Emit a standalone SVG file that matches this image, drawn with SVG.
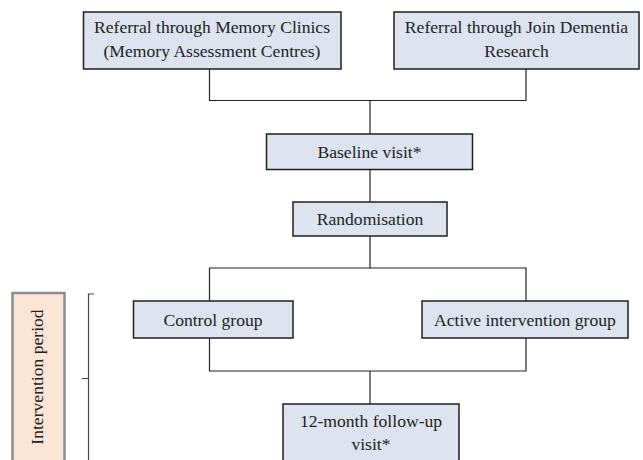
<svg xmlns="http://www.w3.org/2000/svg" width="643" height="460" viewBox="0 0 643 460">
<style>
.box{fill:#dde4ef;stroke:#1f1f1f;stroke-width:1.5}
.t{font-family:"Liberation Serif","Times New Roman",serif;font-size:17.6px;fill:#222;text-anchor:middle}
.c{fill:none;stroke:#222;stroke-width:1.2}
.br{fill:none;stroke:#444;stroke-width:1.2}
</style>
<rect width="643" height="460" fill="#fff"/>
<g id="connectors">
<path class="c" d="M209.5 69V100.5H526V69"/>
<path class="c" d="M370 100.5V134"/>
<path class="c" d="M370 169.5V202"/>
<path class="c" d="M370 236V268H209.5V301"/>
<path class="c" d="M370 268H526V301"/>
<path class="c" d="M209.5 338V371H526V338"/>
<path class="c" d="M370 371V404"/>
</g>
<g id="memory-clinics">
<rect class="box" x="83.5" y="12" width="257.5" height="57"/>
<text class="t" x="212" y="33">Referral through Memory Clinics</text>
<text class="t" x="212" y="57">(Memory Assessment Centres)</text>
</g>
<g id="join-dementia">
<rect class="box" x="394" y="12" width="245" height="57"/>
<text class="t" x="516.5" y="33">Referral through Join Dementia</text>
<text class="t" x="516.5" y="57">Research</text>
</g>
<g id="baseline">
<rect class="box" x="266.5" y="134" width="206" height="35.5"/>
<text class="t" x="369.5" y="157.5">Baseline visit*</text>
</g>
<g id="randomisation">
<rect class="box" x="293" y="202" width="154" height="34"/>
<text class="t" x="370" y="225">Randomisation</text>
</g>
<g id="control">
<rect class="box" x="133.5" y="301" width="159.5" height="37"/>
<text class="t" x="213" y="325.5">Control group</text>
</g>
<g id="active">
<rect class="box" x="422" y="301" width="206" height="37"/>
<text class="t" x="525" y="325.5">Active intervention group</text>
</g>
<g id="followup">
<rect class="box" x="283" y="404" width="176" height="70"/>
<text class="t" x="371" y="427">12-month follow-up</text>
<text class="t" x="371" y="450">visit*</text>
</g>
<g id="intervention-period">
<rect x="12.5" y="293" width="52" height="180" fill="#fbe5d5" stroke="#8c8c8c" stroke-width="2.5"/>
<text class="t" transform="translate(43 377) rotate(-90)" x="0" y="0">Intervention period</text>
<path class="br" d="M94 294H88.5V470M82 378.5H88.5"/>
</g>
</svg>
